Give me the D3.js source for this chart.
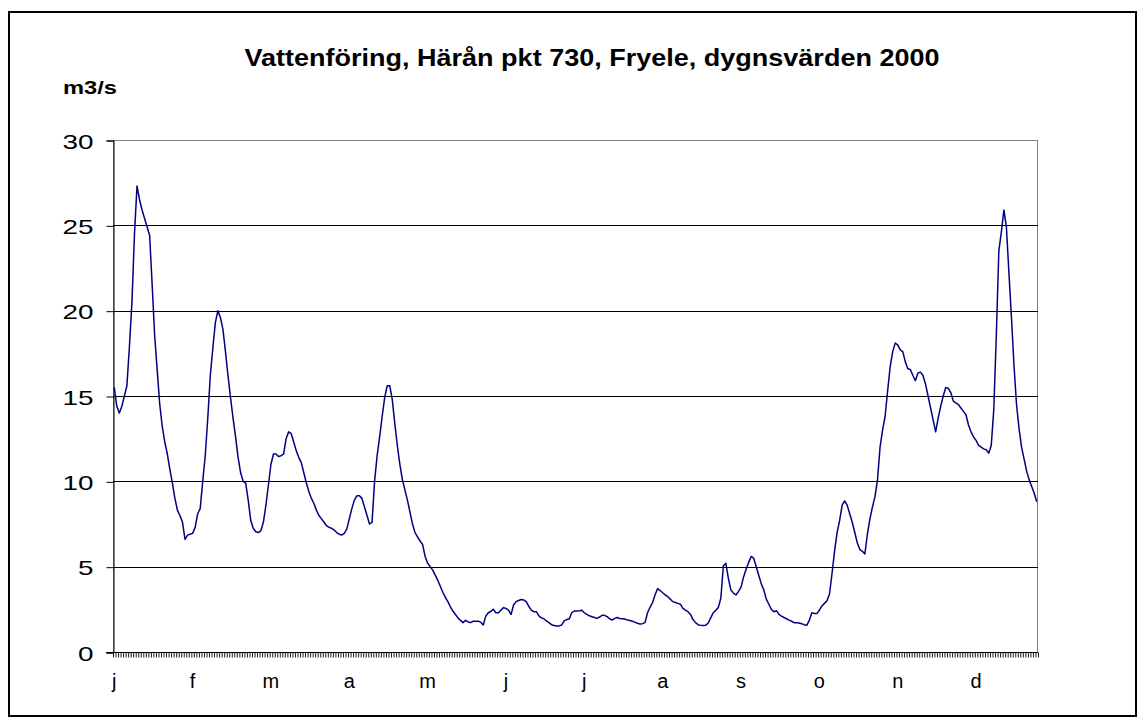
<!DOCTYPE html>
<html>
<head>
<meta charset="utf-8">
<script src="https://d3js.org/d3.v7.min.js"></script>
<style>
  body { margin: 0; background: #fff; }
  text { font-family: Arial, "Liberation Sans", sans-serif; fill: #000; }
</style>
</head>
<body>
<div class="plot"></div>
<script>
// daily discharge (m3/s), Härån pkt 730, year 2000 (leap year, 366 days)
const chartTitle = "Vattenföring, Härån pkt 730, Fryele, dygnsvärden 2000";
const unitLabel = "m3/s";
const yTicks = [0, 5, 10, 15, 20, 25, 30];
const monthLetters = ["j", "f", "m", "a", "m", "j", "j", "a", "s", "o", "n", "d"];
const labelEvery = 31;   // excel shows a category label every 31 days

const jan = [15.5, 14.4, 14.0, 14.4, 15.0, 15.6, 17.9, 20.5, 24.5, 27.3, 26.5, 25.9, 25.4, 24.9, 24.4, 21.5,
  18.5, 16.5, 14.5, 13.2, 12.3, 11.6, 10.7, 9.9, 9.0, 8.3, 8.0, 7.6, 6.6, 6.85, 6.9];
const feb = [6.95, 7.3, 8.1, 8.4, 10.0, 11.5, 13.7, 16.2, 17.8, 19.3, 20.0, 19.6, 18.9, 17.6, 16.2, 14.9,
  13.7, 12.6, 11.4, 10.5, 10.0, 9.9, 8.9, 7.7, 7.25, 7.05, 7.0, 7.1, 7.6];
const mar = [8.6, 9.8, 11.0, 11.6, 11.6, 11.45, 11.5, 11.6, 12.5, 12.9, 12.8, 12.3, 11.8, 11.4, 11.1, 10.5,
  9.9, 9.4, 9.0, 8.7, 8.3, 8.0, 7.8, 7.6, 7.4, 7.3, 7.25, 7.15, 7.0, 6.9, 6.85];
const apr = [6.95, 7.2, 7.8, 8.4, 8.9, 9.15, 9.15, 9.0, 8.5, 8.0, 7.5, 7.6, 10.0, 11.5, 12.6, 13.8,
  14.9, 15.6, 15.6, 14.8, 13.4, 12.1, 11.0, 10.1, 9.5, 8.9, 8.2, 7.5, 7.0, 6.75];
const may = [6.5, 6.3, 5.6, 5.2, 5.0, 4.8, 4.5, 4.2, 3.85, 3.5, 3.2, 2.95, 2.65, 2.4, 2.2, 2.0,
  1.85, 1.72, 1.86, 1.76, 1.72, 1.8, 1.8, 1.8, 1.75, 1.58, 2.1, 2.3, 2.38, 2.5, 2.3];
const jun = [2.3, 2.45, 2.6, 2.55, 2.45, 2.2, 2.75, 2.95, 3.02, 3.08, 3.05, 2.95, 2.68, 2.45, 2.36, 2.36,
  2.12, 2.0, 1.95, 1.82, 1.72, 1.6, 1.55, 1.52, 1.53, 1.58, 1.82, 1.9, 1.93, 2.3];
const jul = [2.4, 2.4, 2.42, 2.45, 2.3, 2.2, 2.12, 2.07, 2.02, 1.97, 2.05, 2.15, 2.15, 2.07, 1.95, 1.87,
  1.97, 2.02, 1.96, 1.95, 1.93, 1.88, 1.85, 1.8, 1.75, 1.68, 1.64, 1.66, 1.72, 2.3, 2.62];
const aug = [2.9, 3.35, 3.72, 3.6, 3.47, 3.35, 3.24, 3.1, 2.95, 2.9, 2.85, 2.8, 2.56, 2.45, 2.36, 2.2,
  1.9, 1.72, 1.6, 1.56, 1.55, 1.56, 1.7, 2.0, 2.3, 2.45, 2.6, 3.15, 5.04, 5.2, 4.3];
const sep = [3.63, 3.45, 3.34, 3.55, 3.8, 4.4, 4.85, 5.25, 5.6, 5.5, 5.0, 4.5, 4.0, 3.63, 3.1, 2.8,
  2.5, 2.36, 2.42, 2.2, 2.1, 2.02, 1.95, 1.87, 1.8, 1.72, 1.72, 1.7, 1.66, 1.6];
const oct = [1.56, 1.85, 2.3, 2.25, 2.25, 2.45, 2.7, 2.85, 3.0, 3.4, 4.6, 5.9, 7.0, 7.7, 8.6, 8.85,
  8.6, 8.1, 7.6, 7.0, 6.4, 6.0, 5.9, 5.75, 6.9, 7.8, 8.5, 9.1, 10.1, 12.0, 13.0];
const nov = [13.8, 15.3, 16.7, 17.6, 18.1, 18.0, 17.7, 17.6, 17.0, 16.6, 16.55, 16.2, 15.9, 16.35, 16.4, 16.2,
  15.7, 15.0, 14.3, 13.6, 12.9, 13.7, 14.4, 15.0, 15.5, 15.45, 15.2, 14.7, 14.6, 14.5];
const dec = [14.3, 14.1, 13.9, 13.3, 12.9, 12.6, 12.4, 12.1, 12.0, 11.9, 11.85, 11.65, 12.1, 14.2, 18.5, 23.5,
  24.6, 25.9, 24.9, 22.2, 19.6, 16.8, 14.5, 13.1, 12.0, 11.3, 10.6, 10.1, 9.7, 9.3, 8.8];

const flow = [].concat(jan, feb, mar, apr, may, jun, jul, aug, sep, oct, nov, dec);

let width = 1144, height = 724;
let plotLeft = 113, plotRight = 1038, plotTop = 140, plotBottom = 652;

let svg = d3.select(".plot")
  .append("svg")
  .attr("width", width)
  .attr("height", height);

var xScale = d3.scaleLinear()
      .domain([0, flow.length])
      .range([plotLeft, plotRight]),
    yScale = d3.scaleLinear()
      .domain([0, 30])
      .range([plotBottom, plotTop]);

// outer chart border
svg.append("rect")
  .attr("x", 9).attr("y", 12)
  .attr("width", 1127).attr("height", 704)
  .attr("fill", "none")
  .attr("stroke", "#000")
  .attr("stroke-width", 2);

// plot area frame (grey, like excel)
svg.append("rect")
  .attr("x", plotLeft + 0.5).attr("y", plotTop + 0.5)
  .attr("width", plotRight - plotLeft - 1).attr("height", plotBottom - plotTop)
  .attr("fill", "none")
  .attr("stroke", "#808080")
  .attr("stroke-width", 1);

// horizontal grid lines
svg.append("g")
  .attr("class", "grid")
  .selectAll("line")
  .data(yTicks.filter(t => t > 0 && t < 30))
  .enter()
  .append("line")
  .attr("x1", plotLeft).attr("x2", plotRight)
  .attr("y1", d => Math.round(yScale(d)) + 0.5)
  .attr("y2", d => Math.round(yScale(d)) + 0.5)
  .attr("stroke", "#000")
  .attr("stroke-width", 1);

// y axis
var yAxis = d3.axisLeft(yScale)
  .tickValues(yTicks)
  .tickSize(7)
  .tickPadding(13);

let gy = svg.append("g")
  .attr("class", "y-axis")
  .attr("transform", "translate(" + (plotLeft + 0.5) + ",0.5)")
  .call(yAxis);
gy.select(".domain").attr("stroke", "#000");
gy.selectAll(".tick line").attr("stroke", "#000");
gy.selectAll(".tick text")
  .attr("font-size", 21)
  .attr("dy", "0.37em")
  .attr("textLength", d => String(d).length * 15.5)
  .attr("lengthAdjust", "spacingAndGlyphs");

// x axis: a tick between every day, month letter every 31 days
var xAxis = d3.axisBottom(xScale)
  .tickValues(d3.range(0, flow.length + 1))
  .tickSize(5)
  .tickFormat("");

let gx = svg.append("g")
  .attr("class", "x-axis")
  .attr("transform", "translate(0," + (plotBottom + 0.5) + ")")
  .call(xAxis);
gx.select(".domain").remove();
gx.selectAll(".tick line").attr("stroke", "#000").attr("stroke-width", 0.9);
gx.append("line")
  .attr("x1", plotLeft - 7).attr("x2", plotRight)
  .attr("stroke", "#000");

let labelIdx = d3.range(0, flow.length, labelEvery);
svg.append("g")
  .attr("class", "x-labels")
  .selectAll("text")
  .data(labelIdx)
  .enter()
  .append("text")
  .attr("x", d => xScale(d + 0.5))
  .attr("y", 688)
  .attr("text-anchor", "middle")
  .attr("font-size", 20)
  .text(d => monthLetters[new Date(2000, 0, 1 + d).getMonth()]);

// the series
var line = d3.line()
  .x((d, i) => xScale(i + 0.5))
  .y(d => yScale(d));

svg.append("path")
  .datum(flow)
  .attr("d", line)
  .attr("fill", "none")
  .attr("stroke", "#000080")
  .attr("stroke-width", 1.5)
  .attr("stroke-linejoin", "round");

// titles
svg.append("text")
  .attr("x", 592)
  .attr("y", 66)
  .attr("text-anchor", "middle")
  .attr("font-size", 24)
  .attr("font-weight", "bold")
  .attr("textLength", 695)
  .attr("lengthAdjust", "spacingAndGlyphs")
  .text(chartTitle);

svg.append("text")
  .attr("x", 63)
  .attr("y", 94)
  .attr("font-size", 18)
  .attr("font-weight", "bold")
  .attr("textLength", 54)
  .attr("lengthAdjust", "spacingAndGlyphs")
  .text(unitLabel);
</script>
</body>
</html>
